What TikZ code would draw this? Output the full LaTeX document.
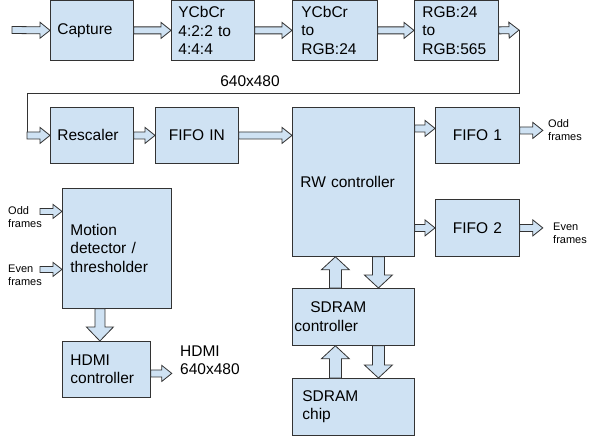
\documentclass[tikz,border=0pt]{standalone}
\usepackage{fontspec}
\setmainfont{Liberation Sans}
\usetikzlibrary{positioning}
\usetikzlibrary{calc}
\definecolor{boxblue}{HTML}{CFE2F3}
\definecolor{edge}{HTML}{333333}
% block arrow: from, to, shaft half width, head half width, head length
\newcommand{\fatarrow}[5]{%
    \coordinate (fa-s) at (#1);
    \coordinate (fa-e) at (#2);
    \coordinate (fa-b) at ($(fa-e)!#5!(fa-s)$);
    \draw[blockarr] ($(fa-s)!#3!90:(fa-e)$) -- ($(fa-b)!#3!90:(fa-e)$)
        -- ($(fa-b)!#4!90:(fa-e)$) -- (fa-e) -- ($(fa-b)!#4!-90:(fa-e)$)
        -- ($(fa-b)!#3!-90:(fa-e)$) -- ($(fa-s)!#3!-90:(fa-e)$) -- cycle;
}

\begin{document}
\begin{tikzpicture}[x=1pt, y=-1pt,
    blk/.style={draw=edge, fill=boxblue, line width=0.8pt, anchor=north west, align=left, inner ysep=0pt, font=\fontsize{15.5}{18.5}\selectfont},
    lbl/.style={align=left, inner sep=0pt, font=\fontsize{15.5}{18.5}\selectfont},
    sidetext/.style={align=left, inner sep=0pt, anchor=west, font=\fontsize{11}{13}\selectfont},
    blockarr/.style={draw=edge, fill=boxblue, line width=0.8pt, line join=miter},
    loopline/.style={draw=edge, line width=0.8pt}]
    \useasboundingbox (0,0) rectangle (601,436);

    % top row
    \node[blk, text width=69pt, inner xsep=7pt, minimum height=59pt] (cap) at (50,0.5) {Capture};
    \node[blk, text width=69pt, inner xsep=7pt, minimum height=59pt] (ycc1) at (171,0.5) {YCbCr\\4:2:2 to\\4:4:4};
    \node[blk, text width=67pt, inner xsep=9pt, minimum height=59pt] (ycc2) at (292,0.5) {YCbCr\\to\\RGB:24};
    \node[blk, text width=68pt, inner xsep=8pt, minimum height=59pt] (rgb) at (414,0.5) {RGB:24\\to\\RGB:565};

    % second row
    \node[blk, text width=69pt, inner xsep=7pt, minimum height=56pt] (resc) at (50,107) {Rescaler};
    \node[blk, align=center, text width=69pt, inner xsep=7pt, minimum height=56pt] (fifoin) at (155,107) {FIFO IN};
    \node[blk, text width=106pt, inner xsep=8pt, minimum height=149pt] (rw) at (292,107) {RW controller};
    \node[blk, align=center, text width=70pt, inner xsep=7pt, minimum height=56pt] (fifo1) at (435,107) {FIFO 1};
    \node[blk, align=center, text width=70pt, inner xsep=7pt, minimum height=57pt] (fifo2) at (435,199) {FIFO 2};
    \node[blk, text width=118pt, inner xsep=2pt, minimum height=57pt] (sdc) at (292,288) {\hspace*{16pt}SDRAM\\controller};
    \node[blk, text width=102pt, inner xsep=10pt, minimum height=57pt] (chip) at (292,378) {SDRAM\\chip};

    % output side
    \node[blk, text width=93pt, inner xsep=8pt, minimum height=120pt] (motion) at (62,188) {Motion\\detector /\\thresholder};
    \node[blk, text width=72pt, inner xsep=8pt, minimum height=56pt] (hdmi) at (62,341) {HDMI\\controller};

    \coordinate (src) at (12,30);
    \fatarrow{src}{cap.west}{3.5pt}{8pt}{10pt}
    \foreach \a/\b in {cap/ycc1, ycc1/ycc2, ycc2/rgb} {
        \fatarrow{\a.east}{\b.west}{3.5pt}{8pt}{10pt}
    }
    \coordinate (out0) at (519,30);
    \fatarrow{rgb.east}{out0}{3.5pt}{8pt}{10pt}
    \coordinate (turn) at (27,93);
    \coordinate (in1) at (turn |- resc.west);
    \draw[loopline] (out0) |- (turn) -- (in1);
    \fatarrow{in1}{resc.west}{3.5pt}{8pt}{10pt}
    \node[lbl, anchor=center] (res) at (250,81) {640x480};

    \fatarrow{resc.east}{fifoin.west}{3.5pt}{8pt}{10pt}
    \coordinate (rwin) at (fifoin.east -| rw.west);
    \fatarrow{fifoin.east}{rwin}{3.5pt}{8pt}{10pt}
    \coordinate (f1in) at ([yshift=7pt]fifo1.west);
    \coordinate (rwo1) at (rw.east |- f1in);
    \fatarrow{rwo1}{f1in}{3.5pt}{8pt}{10pt}
    \coordinate (rwo2) at (rw.east |- fifo2.west);
    \fatarrow{rwo2}{fifo2.west}{3.5pt}{8pt}{10pt}
    \coordinate (f1o) at ([yshift=5pt]fifo1.east);
    \coordinate (oddout) at ([xshift=23pt]f1o);
    \fatarrow{f1o}{oddout}{3.5pt}{8pt}{10pt}
    \coordinate (evenout) at ([xshift=23pt]fifo2.east);
    \fatarrow{fifo2.east}{evenout}{3.5pt}{8pt}{10pt}
    \node[sidetext] (oddr) at (548,130) {Odd\\frames};
    \node[sidetext] (evenr) at (553,233) {Even\\frames};

    % memory path
    \coordinate (up1) at ([xshift=-18pt]rw.south);
    \coordinate (dn1) at ([xshift=25pt]rw.south);
    \fatarrow{up1 |- sdc.north}{up1}{6pt}{14pt}{13pt}
    \fatarrow{dn1}{dn1 |- sdc.north}{6pt}{14pt}{13pt}
    \fatarrow{up1 |- chip.north}{up1 |- sdc.south}{6pt}{14pt}{13pt}
    \fatarrow{dn1 |- sdc.south}{dn1 |- chip.north}{6pt}{14pt}{13pt}

    % motion detection
    \coordinate (oddin) at ([yshift=37pt]motion.west);
    \coordinate (evenin) at ([yshift=-21pt]motion.west);
    \fatarrow{[xshift=-22pt]oddin}{oddin}{3pt}{7pt}{9pt}
    \fatarrow{[xshift=-22pt]evenin}{evenin}{3pt}{7pt}{9pt}
    \node[sidetext] (oddl) at (8,217) {Odd\\frames};
    \node[sidetext] (evenl) at (8,275) {Even\\frames};
    \coordinate (mo) at ([xshift=-17pt]motion.south);
    \fatarrow{mo}{mo |- hdmi.north}{5pt}{13.5pt}{14pt}
    \coordinate (hdo) at ([yshift=-4pt]hdmi.east);
    \fatarrow{hdo}{[xshift=21pt]hdo}{3.5pt}{8pt}{10pt}
    \node[lbl, anchor=west] (hdmiout) at (180,360) {HDMI\\640x480};
\end{tikzpicture}
\end{document}
